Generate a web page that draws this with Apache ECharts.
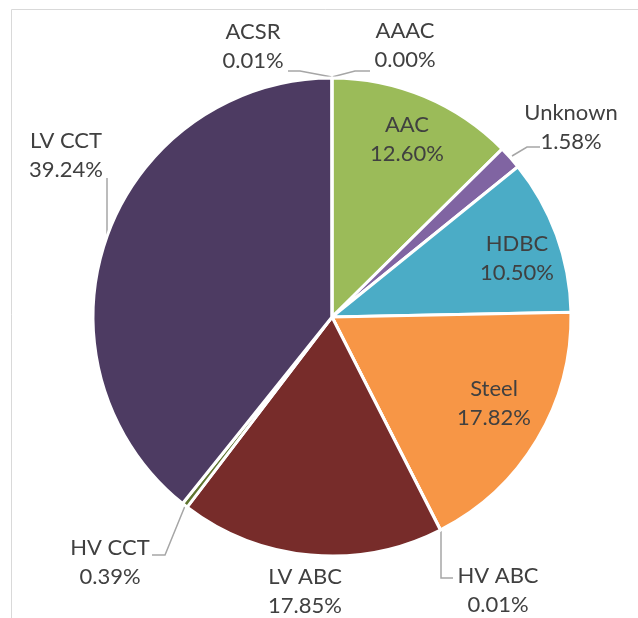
<!DOCTYPE html>
<html>
<head>
<meta charset="utf-8">
<script src="https://cdn.jsdelivr.net/npm/echarts@6/dist/echarts.min.js"></script>
<style>
  html, body { margin: 0; padding: 0; background: #fff; }
  #chart { width: 638px; height: 618px; }
</style>
</head>
<body>
<div id="chart"></div>
<script>
// clockwise from 12 o'clock
const categories = ['AAAC', 'AAC', 'Unknown', 'HDBC', 'Steel', 'HV ABC', 'LV ABC', 'HV CCT', 'LV CCT', 'ACSR']
const shares = [0.00, 12.60, 1.58, 10.50, 17.82, 0.01, 17.85, 0.39, 39.24, 0.01]
const colors = ['#4F81BD', '#9BBB59', '#8064A2', '#4BACC6', '#F79646', '#2C4D75', '#772C2A', '#5F7530', '#4D3B62', '#C0504D']

// label centres + leader lines (Excel placed these by hand)
const labelPos = {
  'AAAC':    { x: 405, y: 45, line: [[332, 77], [355, 71], [370, 71]] },
  'AAC':     { x: 407, y: 139 },
  'Unknown': { x: 571, y: 127, line: [[512, 156], [527, 147], [540, 147]] },
  'HDBC':    { x: 517, y: 258 },
  'Steel':   { x: 494, y: 403 },
  'HV ABC':  { x: 498, y: 590, line: [[441, 530], [441, 578], [453, 578]] },
  'LV ABC':  { x: 305, y: 591 },
  'HV CCT':  { x: 110, y: 562, line: [[185, 506], [165, 555], [152, 555]] },
  'LV CCT':  { x: 66, y: 155, line: [[107, 237], [107, 178]] },
  'ACSR':    { x: 253, y: 46, line: [[332, 77], [300, 71], [288, 71]] }
}

const chart = echarts.init(document.getElementById('chart'))

const data = categories.map((name, i) => ({
  name: name,
  value: shares[i],
  itemStyle: { color: colors[i] },
  labelLine: { show: !!labelPos[name].line }
}))

chart.setOption({
  animation: false,
  graphic: [{
    type: 'rect',
    shape: { x: 11.5, y: 9.5, width: 700, height: 700 },
    style: { fill: 'none', stroke: '#d9d9d9', lineWidth: 1 },
    silent: true
  }],
  series: [{
    type: 'pie',
    center: [332, 317],
    radius: [0, 239],
    startAngle: 90,
    clockwise: true,
    avoidLabelOverlap: false,
    itemStyle: { borderColor: '#fff', borderWidth: 3 },
    label: {
      show: true,
      position: 'outside',
      color: '#404040',
      fontFamily: 'Lato',
      fontSize: 22,
      lineHeight: 29,
      formatter: p => p.name + '\n' + p.value.toFixed(2) + '%'
    },
    labelLine: {
      lineStyle: { color: '#a6a6a6', width: 1.5 }
    },
    labelLayout: function (params) {
      const p = labelPos[categories[params.dataIndex]]
      const out = { x: p.x, y: p.y, align: 'center', verticalAlign: 'middle', hideOverlap: false }
      if (p.line) out.labelLinePoints = p.line
      return out
    },
    data: data
  }]
})
</script>
</body>
</html>
